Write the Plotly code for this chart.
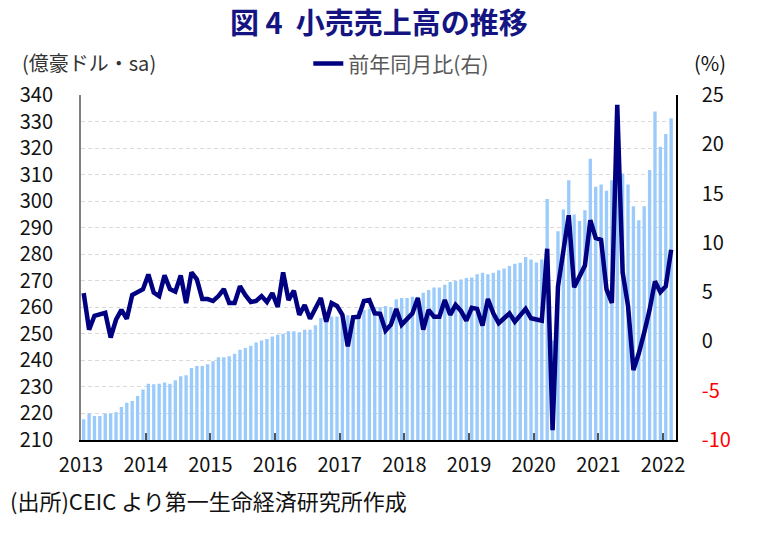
import plotly.graph_objects as go

years = ["2013", "2014", "2015", "2016", "2017", "2018", "2019", "2020", "2021", "2022"]

# Monthly retail sales (億豪ドル, sa), Jan 2013 - Feb 2022
retail = [
    217.8, 220.0, 219.0, 219.0, 220.0, 220.0, 220.5, 222.4, 224.0, 224.7, 226.6, 229.0,
    231.2, 231.0, 231.2, 231.7, 231.2, 232.5, 234.0, 234.4, 237.1, 237.9, 237.9, 238.5,
    239.7, 241.2, 241.2, 241.6, 242.5, 244.0, 244.7, 245.5, 246.7, 247.5, 248.1, 249.0,
    249.7, 250.0, 251.0, 251.0, 250.6, 251.5, 251.5, 253.2, 256.0, 256.5, 256.5, 256.5,
    257.0, 257.0, 257.0, 258.7, 259.0, 259.5, 260.0, 260.0, 260.5, 260.0, 263.0, 263.5,
    263.5, 264.0, 264.0, 265.5, 266.5, 267.5, 267.5, 268.5, 269.5, 270.0, 270.5, 271.0,
    271.2, 272.5, 273.0, 272.5, 273.0, 274.0, 274.6, 275.6, 276.4, 276.8, 279.0, 278.0,
    276.9, 278.0, 300.8, 247.5, 288.7, 296.9, 307.9, 295.0, 292.5, 296.6, 316.0, 305.4,
    306.3, 303.9, 307.9, 311.0, 310.4, 306.3, 298.1, 292.8, 298.1, 311.7, 333.8, 320.5,
    325.3, 331.2,
]

# Year-on-year change (%), right axis
yoy = [
    4.9, 1.2, 2.6, 2.8, 2.9, 0.4, 2.2, 3.2, 2.3, 4.7, 4.95, 5.3,
    6.8, 4.95, 4.6, 6.7, 5.3, 5.05, 6.7, 3.9, 7.0, 6.3, 4.3, 4.3,
    4.1, 4.6, 5.3, 3.9, 3.9, 5.6, 4.7, 4.0, 4.1, 4.6, 4.0, 4.9,
    3.5, 7.0, 4.2, 5.15, 2.7, 3.7, 2.3, 3.3, 4.4, 2.0, 3.9, 3.6,
    2.7, -0.5, 2.45, 2.5, 4.1, 4.2, 2.85, 2.8, 1.1, 1.7, 3.3, 1.7,
    2.2, 2.85, 4.4, 1.2, 3.2, 2.5, 2.5, 4.2, 2.7, 3.7, 3.1, 2.1,
    3.4, 3.3, 1.6, 4.3, 2.85, 1.85, 2.35, 2.85, 2.0, 2.7, 3.3, 2.35,
    2.2, 2.1, 9.4, -9.0, 5.55, 9.0, 12.8, 5.5, 6.6, 7.7, 12.3, 10.5,
    10.3, 5.3, 3.9, 24.0, 7.0, 3.6, -2.9, -1.2, 0.9, 3.2, 6.1, 5.0,
    5.6, 9.3,
]

left_ticks = list(range(210, 341, 10))
right_ticks = [-10, -5, 0, 5, 10, 15, 20, 25]

x = list(range(len(retail)))
year_pos = [12 * i - 0.5 for i in range(len(years))]
right_text = [
    (f'<span style="color:#FF0000">{v}</span>' if v < 0 else str(v)) for v in right_ticks
]

FONT = "Noto Sans CJK JP"

fig = go.Figure()
fig.add_trace(go.Bar(
    x=x, y=retail, marker=dict(color="#9BCBFB", line=dict(width=0)),
    showlegend=False, yaxis="y",
))
fig.add_trace(go.Scatter(
    x=x, y=yoy, mode="lines", name="前年同月比(右)",
    line=dict(color="#000080", width=4.5), yaxis="y2",
))

fig.update_layout(
    width=780, height=534,
    margin=dict(l=81, r=104, t=95, b=94),
    paper_bgcolor="white", plot_bgcolor="white",
    font=dict(family=FONT, size=20, color="#111111"),
    bargap=0.38,
    xaxis=dict(
        range=[-0.5, 109.9], tickmode="array", tickvals=year_pos, ticktext=years,
        ticks="inside", ticklen=7, tickwidth=1.5, tickcolor="#555555",
        showline=True, linecolor="#000000", linewidth=1.5, showgrid=False,
        zeroline=False, ticklabelstandoff=6,
    ),
    yaxis=dict(
        range=[210, 340], tickmode="array", tickvals=left_ticks,
        showline=True, linecolor="#808080", linewidth=2,
        showgrid=True, gridcolor="#D9D9D9", gridwidth=1, griddash="4px,3px",
        zeroline=False, ticks="", ticklabelstandoff=22,
    ),
    yaxis2=dict(
        range=[-10, 25], tickmode="array", tickvals=right_ticks, ticktext=right_text,
        overlaying="y", side="right", showline=True, linecolor="#000000", linewidth=1.5,
        showgrid=False, zeroline=False, ticks="", ticklabelstandoff=20,
    ),
    legend=dict(
        orientation="h", x=0.382, xanchor="left", y=1.09, yanchor="middle",
        font=dict(family=FONT, size=21, color="#595959"), bgcolor="rgba(0,0,0,0)",
    ),
    annotations=[
        dict(text="<b>図 4\u00a0\u00a0小売売上高の推移</b>", xref="paper", yref="paper",
             x=0.5, y=1.215, xanchor="center", yanchor="middle", showarrow=False,
             font=dict(family=FONT, size=29, color="#141482")),
        dict(text="(億豪ドル・sa)", xref="paper", yref="paper",
             x=-0.1025, y=1.095, xanchor="left", yanchor="middle", showarrow=False,
             font=dict(family=FONT, size=20, color="#333333")),
        dict(text="(%)", xref="paper", yref="paper",
             x=1.057, y=1.095, xanchor="center", yanchor="middle", showarrow=False,
             font=dict(family=FONT, size=20, color="#111111")),
        dict(text="(出所)CEIC より第一生命経済研究所作成", xref="paper", yref="paper",
             x=-0.1227, y=-0.174, xanchor="left", yanchor="middle", showarrow=False,
             font=dict(family=FONT, size=22, color="#111111")),
    ],
)

fig.write_html("out.html")
